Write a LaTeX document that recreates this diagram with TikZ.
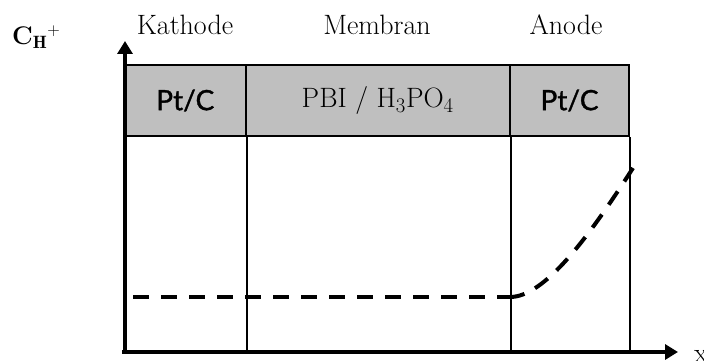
\documentclass[tikz,border=0pt]{standalone}
\usepackage{fontspec}
\newfontfamily\cellfont{Lato}[FakeBold=1.3]
\usetikzlibrary{arrows.meta}
\begin{document}
\begin{tikzpicture}[x=1pt,y=-1pt,
  lbl/.style={font=\fontsize{28}{32}\selectfont, inner sep=0pt},
  cell/.style={draw, line width=2pt, fill=gray!50!white, minimum height=71pt, inner sep=0pt, font=\fontsize{28}{32}\selectfont},
  pt/.style={cell, font=\cellfont\fontsize{28}{32}\selectfont},
  divider/.style={line width=2pt},
  axis/.style={line width=3.6pt, -{Triangle[length=13pt,width=15pt]}},
  profile/.style={line width=4pt, dash pattern=on 16pt off 12pt}]
\useasboundingbox (0,0) rectangle (704,361);

% header row with the three layers
\node[pt, minimum width=120.5pt] (kc) at (185.25,100.5) {Pt/C};
\node[cell, minimum width=264.5pt] (mc) at (377.75,100.5) {PBI / H$_3$PO$_4$};
\node[pt, minimum width=119pt] (ac) at (569.5,100.5) {Pt/C};

% layer names above the header
\node[lbl] (kl) at (185,25) {Kathode};
\node[lbl] (ml) at (377,25) {Membran};
\node[lbl] (al) at (566,25) {Anode};

% axes
\coordinate (O) at (125,352);
\coordinate (xs) at (122,352);
\coordinate (ytip) at (125,41);
\coordinate (xtip) at (678,352);

% column boundaries below the header
\draw[divider] (kc.south east) -- (kc.south east |- O);
\draw[divider] (mc.south east) -- (mc.south east |- O);
\draw[divider] (ac.south east) -- (ac.south east |- O);

\draw[axis] (O) -- (ytip);
\draw[axis] (xs) -- (xtip);

\node[lbl, font=\fontsize{25.5}{30}\selectfont\bfseries, anchor=base west] (cy) at (12,45) {C$_{\mathbf{H}}{}^{+}$};
\node[lbl, anchor=west] (xl) at (694,356) {x};

% proton concentration profile: flat through cathode and membrane, rising in the anode
\coordinate (p0) at (133,297);
\coordinate (p1) at (510,297);
\coordinate (p2) at (633,168);
\draw[profile] (p0) -- (p1);
\draw[profile] (p2) .. controls (590,235) and (545,297) .. (p1);
\end{tikzpicture}
\end{document}
